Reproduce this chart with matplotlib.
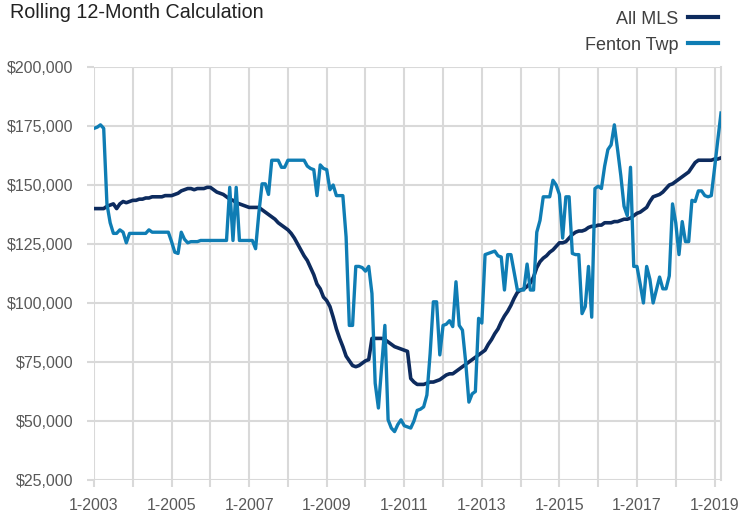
import numpy as np
import pandas as pd
import matplotlib
matplotlib.use("Agg")
import matplotlib.pyplot as plt

# Rolling 12-month values in $1000s, one value per month, Jan 2003 - Mar 2019
all_mls = [
    140, 140, 140, 140, 141, 141.5, 142, 140, 142, 143, 142.5, 143,                 # 2003
    143.5, 143.5, 144, 144, 144.5, 144.5, 145, 145, 145, 145, 145.5, 145.5,         # 2004
    145.5, 146, 146.5, 147.5, 148, 148.5, 148.5, 148, 148.5, 148.5, 148.5, 149,     # 2005
    149, 148, 147, 146.5, 146, 145, 144, 143.5, 142.5, 142, 141.5, 141,             # 2006
    140.5, 140.5, 140.5, 140.5, 139.5, 138.5, 137.5, 136.5, 135.5, 134, 133, 132,   # 2007
    131, 129.5, 127.5, 125, 122.5, 120, 118, 115, 112, 108, 106, 102.5,             # 2008
    101, 98.5, 94, 89, 85, 81.5, 77.5, 75.5, 73.5, 73, 73.5, 74.5,                  # 2009
    75.5, 76, 85, 85, 85, 85, 84.5, 83.5, 82.5, 81.5, 81, 80.5,                     # 2010
    80, 79.5, 68, 66.5, 65.5, 65.5, 65.5, 66, 66.5, 66.5, 67, 67.5,                 # 2011
    68.5, 69.5, 70, 70, 71, 72, 73, 74, 75, 76, 77, 78,                             # 2012
    79, 80, 82.5, 84.5, 87, 89, 92, 94.5, 96.5, 99, 102, 104.5,                     # 2013
    105.5, 106, 107, 108.5, 111, 115, 117.5, 119, 120, 121.5, 122.5, 124,           # 2014
    125.5, 125.5, 126, 127.5, 129, 130, 130.5, 130.5, 131, 132, 132.5, 132.5,       # 2015
    133, 133, 134, 134, 134, 134.5, 134.5, 135, 135.5, 135.5, 136, 137,             # 2016
    138, 138.5, 139.5, 140.5, 143, 145, 145.5, 146, 147, 148.5, 150, 150.5,         # 2017
    151.5, 152.5, 153.5, 154.5, 155.5, 157.5, 159.5, 160.5, 160.5, 160.5, 160.5, 160.5,  # 2018
    161, 161, 161.5,                                                                # 2019
]

fenton_twp = [
    174, 174.5, 175.5, 174, 142, 134, 129.5, 129.5, 131, 130, 125.5, 129.5,         # 2003
    129.5, 129.5, 129.5, 129.5, 129.5, 131, 130, 130, 130, 130, 130, 130,           # 2004
    126, 121.5, 121, 130, 127, 125.5, 126, 126, 126, 126.5, 126.5, 126.5,           # 2005
    126.5, 126.5, 126.5, 126.5, 126.5, 126.5, 149, 126.5, 149, 126.5, 126.5, 126.5, # 2006
    126.5, 126.5, 123, 138, 150.5, 150.5, 146, 160.5, 160.5, 160.5, 157.5, 157.5,   # 2007
    160.5, 160.5, 160.5, 160.5, 160.5, 160.5, 158, 157, 156.5, 145.5, 158.5, 157,   # 2008
    156.5, 148, 150, 145.5, 145.5, 145.5, 128, 90.5, 90.5, 115.5, 115.5, 115,       # 2009
    113.5, 115.5, 104, 66, 55.5, 73, 90.5, 50.5, 47, 45.5, 48.5, 50.5,              # 2010
    48, 47.5, 47, 50, 54.5, 55, 56, 61, 78.5, 100.5, 100.5, 78,                     # 2011
    90.5, 91, 92.5, 90, 109, 90.5, 88.5, 75, 58, 61.5, 62.5, 93.5,                  # 2012
    91.5, 120.5, 121, 121.5, 122, 120, 119.5, 105.5, 120.5, 120.5, 113, 105.5,      # 2013
    105.5, 105.5, 116.5, 105.5, 105.5, 130, 135, 145, 145, 145, 152, 150,           # 2014
    146, 127.5, 145, 145, 121, 120.5, 120.5, 95.5, 98.5, 115.5, 94, 148.5,          # 2015
    149.5, 148.5, 158, 165, 167, 175.5, 165, 154, 141, 137, 157.5, 115.5,           # 2016
    115.5, 108, 100, 115.5, 110, 100, 105.5, 111, 106, 106, 111.5, 142,             # 2017
    134, 120.5, 134.5, 126, 126, 143.5, 143, 147.5, 147.5, 145.5, 145, 145.5,       # 2018
    157, 169, 180.5,                                                                # 2019
]

start_month = "2003-01"
y_ticks = [25000, 50000, 75000, 100000, 125000, 150000, 175000, 200000]
series_labels = ["All MLS", "Fenton Twp"]


def main():
    plt.rcParams["font.family"] = ["Liberation Sans", "DejaVu Sans"]

    dates = pd.period_range(start_month, periods=len(all_mls), freq="M")
    x = np.arange(len(dates))
    mls = np.array(all_mls) * 1000
    fenton = np.array(fenton_twp) * 1000

    grid_color = "#d9d9d9"
    text_color = "#595959"

    fig = plt.figure(figsize=(7.55, 5.15), dpi=100)
    ax = fig.add_axes([94 / 755, 1 - 480 / 515, (721 - 94) / 755, (480 - 67) / 515])

    ax.plot(x, mls, color="#0d2b5e", linewidth=2.6, label=series_labels[0], zorder=3)
    ax.plot(x, fenton, color="#0f7db4", linewidth=2.4, label=series_labels[1], zorder=4)

    ax.set_xlim(0, len(x) - 1)
    ax.set_ylim(y_ticks[0], y_ticks[-1])

    '''Gridlines every January, labels every second year'''
    jan_idx = [i for i, d in enumerate(dates) if d.month == 1]
    ax.set_xticks(jan_idx)
    ax.set_xticklabels([f"1-{dates[i].year}" if dates[i].year % 2 == 1 else "" for i in jan_idx])
    ax.set_yticks(y_ticks)
    ax.set_yticklabels([f"${v:,.0f}" for v in y_ticks])

    ax.grid(True, color=grid_color, linewidth=1.5)
    ax.set_axisbelow(True)
    ax.tick_params(axis="both", colors=grid_color, length=5, width=1.5, labelcolor=text_color, labelsize=11.5)
    ax.tick_params(axis="y", pad=10)
    ax.tick_params(axis="x", pad=8)
    for side in ["left", "top", "bottom"]:
        ax.spines[side].set_visible(False)
    ax.spines["right"].set_color(grid_color)
    ax.spines["right"].set_linewidth(1.5)

    fig.text(10 / 755, 1 - 3 / 515, "Rolling 12-Month Calculation", fontsize=14.2, color="#222222", va="top", ha="left")

    leg = fig.legend(loc="upper right", bbox_to_anchor=(722 / 755, 1 - 7 / 515), frameon=False,
                     fontsize=13, markerfirst=False, handlelength=1.7, handletextpad=0.5, labelspacing=0.5,
                     borderaxespad=0, borderpad=0.2)
    for txt in leg.get_texts():
        txt.set_color("#404040")
    for line in leg.get_lines():
        line.set_linewidth(3)

    fig.savefig("out.png", dpi=100)
    plt.close(fig)


if __name__ == "__main__":
    main()
